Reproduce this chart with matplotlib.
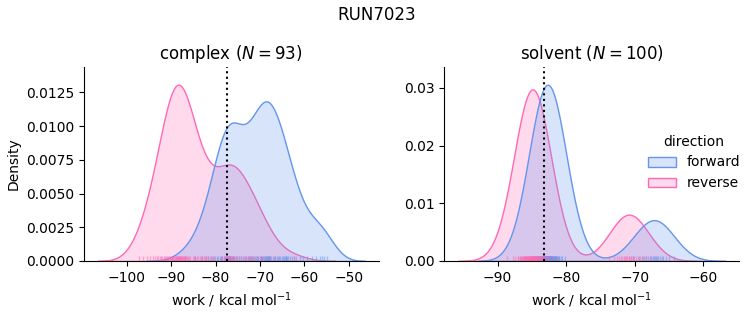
import matplotlib

matplotlib.use("Agg")
import matplotlib.pyplot as plt
import pandas as pd
import seaborn as sns

RUN_NAME = "RUN7023"
PHASES = ["complex", "solvent"]
DIRECTIONS = ["forward", "reverse"]

complex_forward = [
    -86.9, -84.6,
    -83.1, -82.2, -81.7, -81.0, -80.6, -80.2,
    -79.8, -79.4, -79.1, -78.8, -78.5, -78.2, -78.0, -77.8, -77.6, -77.4,
    -77.3, -77.2, -77.0, -76.9, -76.8, -76.7, -76.5, -76.4, -76.2, -76.1,
    -75.8, -75.5, -75.1, -74.7, -74.3, -73.9, -73.5, -73.1, -72.8, -72.5,
    -72.3, -72.1,
    -71.8, -71.5, -71.2, -70.9, -70.6, -70.4, -70.1, -69.9, -69.7, -69.5,
    -69.3, -69.1, -69.0, -68.8, -68.7, -68.5, -68.4, -68.3, -68.2, -68.1,
    -68.0, -67.9,
    -67.7, -67.5, -67.2, -66.9, -66.6, -66.3, -66.0, -65.7, -65.4, -65.1,
    -64.8, -64.6, -64.4, -64.2, -64.1, -64.0,
    -63.7, -63.3, -62.9, -62.4, -61.8, -61.1, -60.4,
    -59.4, -58.3, -57.4, -56.6, -56.1,
    -55.6, -55.0,
]
complex_reverse = [
    -97.2, -96.3, -95.5, -94.8, -94.2,
    -93.7, -93.3, -92.9, -92.6, -92.3, -92.0, -91.7, -91.5, -91.2, -90.9,
    -90.7, -90.5, -90.3, -90.1,
    -89.9, -89.8, -89.6, -89.5, -89.3, -89.2, -89.0, -88.9, -88.8, -88.6,
    -88.5, -88.4, -88.3, -88.2, -88.1, -88.0, -87.8, -87.7, -87.6, -87.4,
    -87.3, -87.1, -87.0, -86.8, -86.7, -86.5, -86.3, -86.1,
    -85.8, -85.2, -84.9, -84.6, -84.3, -84.0, -83.6, -83.3, -83.0,
    -82.7, -82.4, -82.1,
    -81.7, -81.2, -80.8, -80.4, -78.9, -78.6,
    -78.0, -77.8, -77.6, -77.4, -77.2, -77.0, -76.8, -76.6, -76.4, -76.2,
    -76.0, -75.6, -75.2, -74.7, -74.2,
    -73.6, -73.1, -72.8, -72.4, -72.0, -71.7, -71.3, -70.5, -69.9,
    -69.4, -68.1, -66.7,
    -62.4,
]
solvent_forward = [
    -85.3, -84.8, -84.6,
    -84.4, -84.3, -84.2, -84.1, -84.0,
    -83.9, -83.9, -83.8, -83.8, -83.7, -83.7, -83.6, -83.6, -83.5, -83.5,
    -83.4, -83.4, -83.3, -83.3, -83.3, -83.2, -83.2, -83.2, -83.1, -83.1,
    -83.1, -83.0, -83.0, -83.0,
    -82.9, -82.9, -82.9, -82.8, -82.8, -82.8, -82.7, -82.7, -82.7, -82.7,
    -82.6, -82.6, -82.6, -82.5, -82.5, -82.5,
    -82.4, -82.4, -82.4, -82.3, -82.3, -82.3, -82.2, -82.2, -82.2, -82.1,
    -82.1, -82.1, -82.0, -82.0,
    -81.9, -81.9, -81.8, -81.8, -81.7, -81.7, -81.6, -81.6, -81.5, -81.5,
    -81.4, -81.3, -81.2, -81.1, -81.0,
    -80.8, -80.6, -80.2,
    -70.3, -69.4, -68.9, -68.6, -68.3, -68.0, -67.8, -67.6, -67.4, -67.2,
    -67.1, -66.9, -66.8, -66.6, -66.3, -66.0, -65.8, -65.4, -65.0, -64.3,
]
solvent_reverse = [
    -88.6, -87.7, -87.4, -87.1, -87.0, -86.8,
    -86.7, -86.6, -86.5, -86.4, -86.3,
    -86.2, -86.1, -86.1, -86.0, -86.0, -85.9, -85.8, -85.8, -85.7,
    -85.7, -85.6, -85.6, -85.5, -85.5, -85.4, -85.4, -85.3, -85.3, -85.2,
    -85.2, -85.1,
    -85.1, -85.1, -85.0, -85.0, -85.0, -84.9, -84.9, -84.9, -84.8, -84.8,
    -84.8, -84.7, -84.7, -84.7,
    -84.6, -84.6, -84.5, -84.5, -84.5, -84.4, -84.4, -84.3, -84.3, -84.2,
    -84.2, -84.1,
    -84.1, -84.0, -84.0, -83.9, -83.9, -83.8, -83.8, -83.7, -83.7,
    -83.6, -83.5, -83.4, -83.3, -83.2,
    -83.1, -82.9, -82.7, -82.5, -82.1, -81.5,
    -73.8, -73.0, -72.6, -72.3, -72.0, -71.8, -71.6, -71.4, -71.2, -71.1,
    -70.9, -70.8, -70.6, -70.5, -70.3, -70.1, -69.8, -69.5, -69.2, -68.8,
    -68.4, -67.6,
]

# free energy estimates shown as dotted lines
free_energy = {"complex": -77.5, "solvent": -83.2}
n_cycles = {"complex": 93, "solvent": 100}

COLORS = {"forward": "cornflowerblue", "reverse": "hotpink"}


def build_frame() -> pd.DataFrame:
    series = {
        ("complex", "forward"): complex_forward,
        ("complex", "reverse"): complex_reverse,
        ("solvent", "forward"): solvent_forward,
        ("solvent", "reverse"): solvent_reverse,
    }
    frames = []
    for (phase, direction), works in series.items():
        frames.append(pd.DataFrame({"phase": phase, "direction": direction, "work": works}))
    return pd.concat(frames, ignore_index=True)


def main() -> None:
    df = build_frame()

    g = sns.displot(
        data=df,
        x="work",
        hue="direction",
        col="phase",
        col_order=PHASES,
        hue_order=DIRECTIONS,
        kind="kde",
        fill=True,
        rug=True,
        palette=COLORS,
        rug_kws=dict(alpha=0.5),
        facet_kws=dict(sharex=False, sharey=False),
        height=3,
        aspect=1,
    )

    for ax, phase in zip(g.axes.flat, PHASES):
        ax.axvline(free_energy[phase], color="k", linestyle=":")
        ax.set_title(f"{phase} ($N = {n_cycles[phase]}$)")
        ax.set_xlabel("work / kcal mol$^{-1}$")
        ax.margins(y=0.1)

    fig = g.figure
    fig.set_size_inches(7.53, 3.25)
    fig.subplots_adjust(left=84 / 753, right=739 / 753, bottom=64 / 325, top=258 / 325, wspace=0.224)
    sns.move_legend(g, "center right", bbox_to_anchor=(1.0, 0.5))
    fig.suptitle(RUN_NAME)
    fig.savefig("out.png", dpi=100)
    plt.close(fig)


if __name__ == "__main__":
    main()
